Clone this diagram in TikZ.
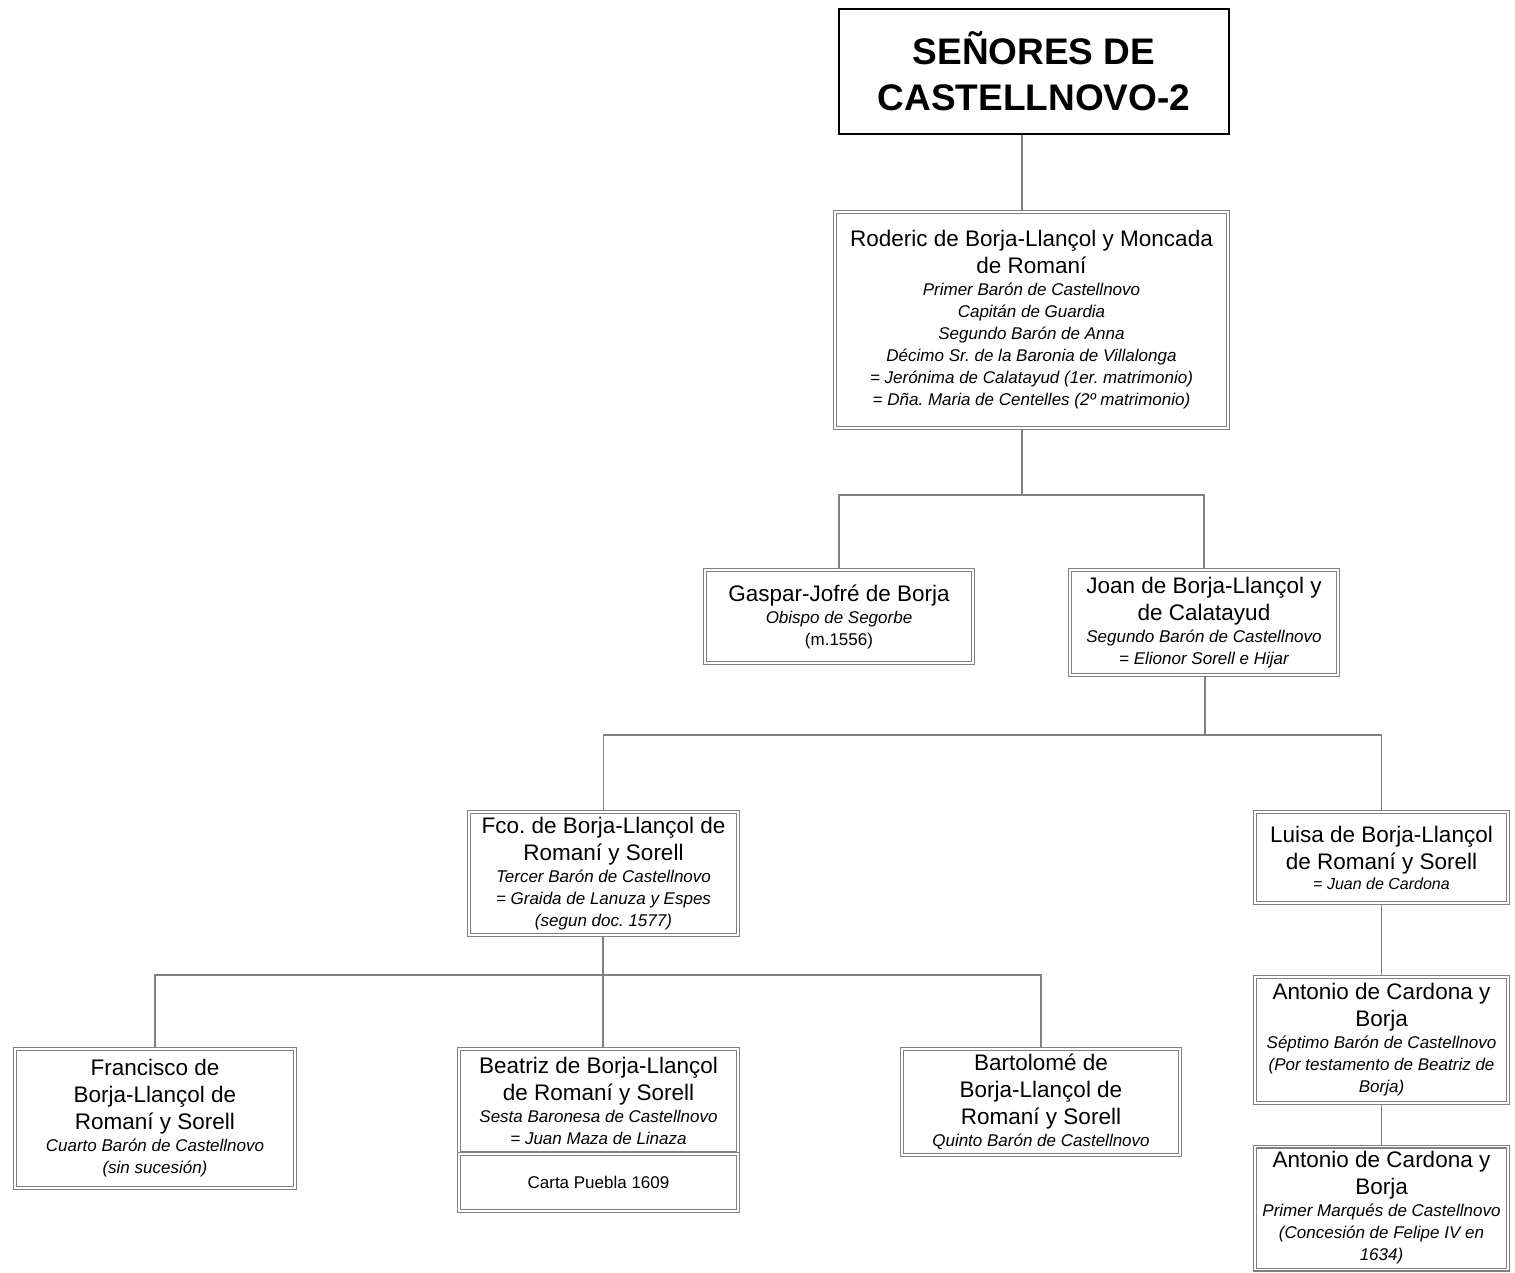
\documentclass[tikz,border=0pt]{standalone}
\usepackage{fontspec}
\setmainfont{Liberation Sans}
\usetikzlibrary{positioning, calc}
\newcommand\cargo{\fontsize{17}{22}\selectfont\itshape}
\tikzset{
  pers/.style={rectangle, draw=black!50, double=white, double distance=1.6pt,
               line width=1.2pt, align=flush center, inner sep=2pt,
               font=\fontsize{22.5}{27}\selectfont},
  titulo/.style={rectangle, draw=black, line width=1.6pt, align=center,
                 font=\fontsize{37}{46}\selectfont\bfseries},
  lin/.style={draw=black!50, line width=1.5pt},
}
\begin{document}
\frenchspacing
\begin{tikzpicture}[x=1pt, y=-1pt]
  \useasboundingbox (0,0) rectangle (1515,1272);

  \node[titulo, minimum width=390, minimum height=125] (tit) at (1034,71.5)
    {SEÑORES DE\\CASTELLNOVO-2};

  \node[pers, minimum width=393, minimum height=216, text width=386] (rod) at (1031.5,320)
    {Roderic de Borja-Llançol y Moncada\\de Romaní\par
     \cargo Primer Barón de Castellnovo\\Capitán de Guardia\\Segundo Barón de Anna\\
     Décimo Sr. de la Baronia de Villalonga\\= Jerónima de Calatayud (1er. matrimonio)\\
     = Dña. Maria de Centelles (2º matrimonio)\par};

  \node[pers, minimum width=268, minimum height=93, text width=262] (gas) at (839,616.5)
    {Gaspar-Jofré de Borja\par
     \cargo Obispo de Segorbe\\{\upshape (m.1556)}\par};
  \node[pers, minimum width=268, minimum height=105, text width=262] (joan) at (1204,622.5)
    {Joan de Borja-Llançol y\\de Calatayud\par
     \cargo Segundo Barón de Castellnovo\\= Elionor Sorell e Hijar\par};

  \node[pers, minimum width=269, minimum height=123, text width=263] (fco) at (603.5,873.5)
    {Fco. de Borja-Llançol de\\Romaní y Sorell\par
     \cargo Tercer Barón de Castellnovo\\= Graida de Lanuza y Espes\\(segun doc. 1577)\par};
  \node[pers, minimum width=253, minimum height=91, text width=247] (luisa) at (1381.5,857.5)
    {Luisa de Borja-Llançol\\de Romaní y Sorell\par
     \fontsize{16}{20}\selectfont\itshape = Juan de Cardona\par};

  \node[pers, minimum width=280, minimum height=139, text width=274] (fran) at (155,1118.5)
    {Francisco de\\Borja-Llançol de\\Romaní y Sorell\par
     \cargo Cuarto Barón de Castellnovo\\(sin sucesión)\par};
  \node[pers, minimum width=279, minimum height=104, text width=273] (bea) at (598.5,1101)
    {Beatriz de Borja-Llançol\\de Romaní y Sorell\par
     \cargo Sesta Baronesa de Castellnovo\\= Juan Maza de Linaza\par};
  \node[pers, minimum width=279, minimum height=57, text width=273, below=0pt of bea,
        font=\fontsize{17}{21}\selectfont] (carta) {Carta Puebla 1609};
  \node[pers, minimum width=278, minimum height=106, text width=272] (bart) at (1041,1102)
    {Bartolomé de\\Borja-Llançol de\\Romaní y Sorell\par
     \cargo Quinto Barón de Castellnovo\par};

  \node[pers, minimum width=253, minimum height=126, text width=249] (ant1) at (1381.5,1040)
    {Antonio de Cardona y\\Borja\par
     \cargo Séptimo Barón de Castellnovo\\(Por testamento de Beatriz de\\Borja)\par};
  \node[pers, minimum width=253, minimum height=123, text width=249] (ant2) at (1381.5,1208)
    {Antonio de Cardona y\\Borja\par
     \cargo Primer Marqués de Castellnovo\\(Concesión de Felipe IV en\\1634)\par};

  % buses
  \coordinate (b1) at (1022,495);
  \coordinate (b2) at (1205,735);
  \coordinate (b3) at (603,975);

  \draw[lin] (tit.south -| b1) -- (rod.north -| b1);
  \draw[lin] (rod.south -| b1) -- (b1);
  \draw[lin] (gas.north) |- (b1) -| (joan.north);
  \draw[lin] (joan.south -| b2) -- (b2);
  \draw[lin] (fco.north) |- (b2) -| (luisa.north);
  \draw[lin] (fco.south -| b3) -- (b3);
  \draw[lin] (fran.north) |- (b3) -| (bart.north);
  \draw[lin] (bea.north -| b3) -- (b3);
  \draw[lin] (luisa.south) -- (ant1.north);
  \draw[lin] (ant1.south) -- (ant2.north);
\end{tikzpicture}
\end{document}
